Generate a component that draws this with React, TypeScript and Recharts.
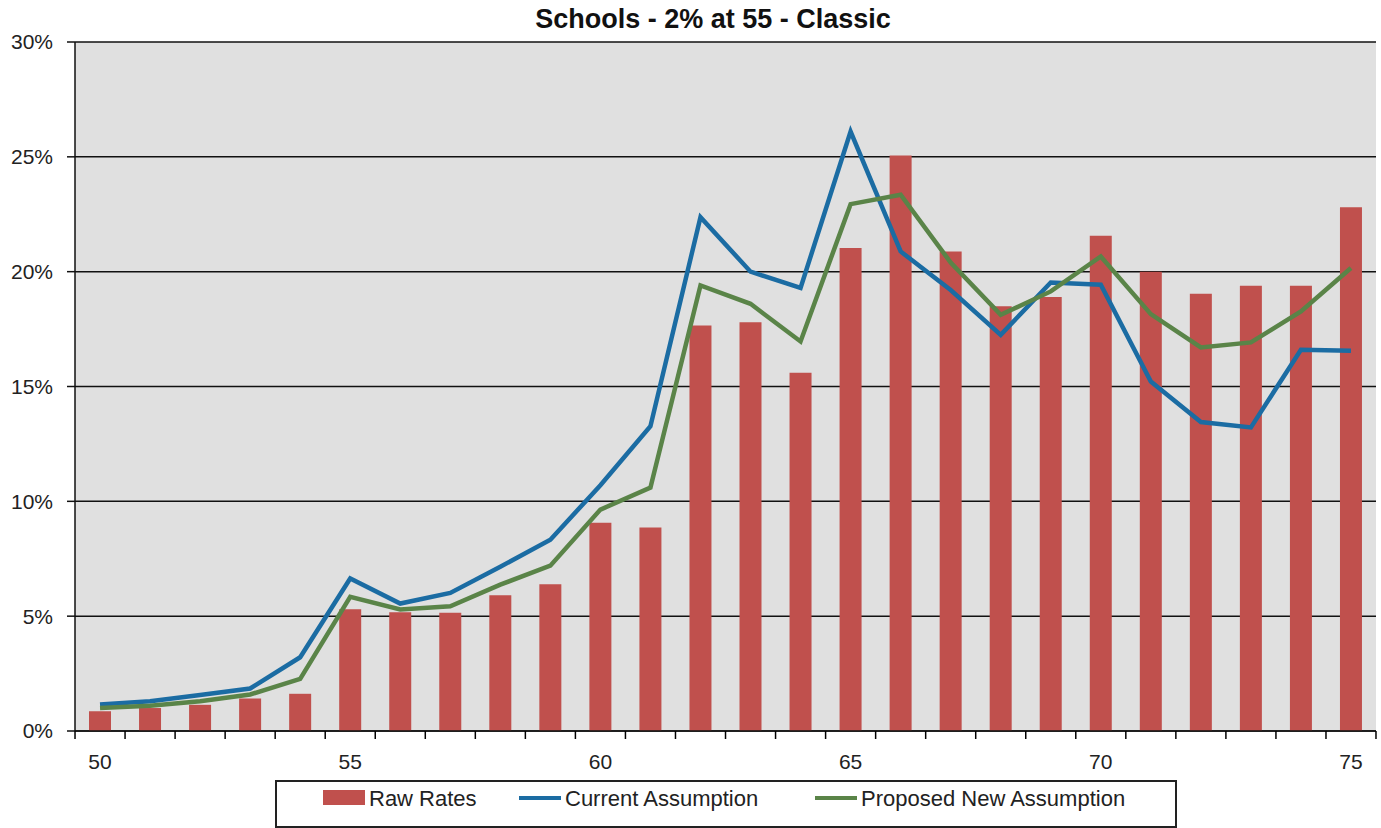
import React from 'react'
import { ComposedChart, Bar, Line, XAxis, YAxis, CartesianGrid, Legend } from 'recharts'

const ages = [50, 51, 52, 53, 54, 55, 56, 57, 58, 59, 60, 61, 62, 63, 64, 65, 66, 67, 68, 69, 70, 71, 72, 73, 74, 75]

const rawRates = [0.86, 1.0, 1.14, 1.41, 1.62, 5.3, 5.17, 5.15, 5.91, 6.39, 9.07, 8.86, 17.66, 17.8, 15.6, 21.03, 25.06, 20.88, 18.49, 18.9, 21.56, 20.0, 19.04, 19.39, 19.39, 22.8]

const currentAssumption = [1.15, 1.3, 1.57, 1.85, 3.21, 6.64, 5.55, 6.01, 7.15, 8.33, 10.7, 13.27, 22.37, 20.0, 19.29, 26.1, 20.88, 19.2, 17.25, 19.53, 19.43, 15.22, 13.45, 13.22, 16.6, 16.56]

const proposedAssumption = [1.0, 1.1, 1.3, 1.59, 2.27, 5.84, 5.29, 5.43, 6.37, 7.2, 9.64, 10.6, 19.4, 18.6, 16.96, 22.94, 23.35, 20.4, 18.12, 19.14, 20.66, 18.15, 16.7, 16.92, 18.27, 20.16]

const yTicks = [0, 5, 10, 15, 20, 25, 30]

const data = ages.map((age, i) => ({
  age,
  raw: rawRates[i],
  current: currentAssumption[i],
  proposed: proposedAssumption[i],
}))

const FONT = '"Liberation Sans", Arial, sans-serif'
const BAR = '#c0504d'
const BLUE = '#1b6ca3'
const GREEN = '#5a8448'
const BAND = 50

const AgeTick = (props: any) => {
  const { x, y, payload, index } = props
  const last = index === ages.length - 1
  return (
    <g>
      <line x1={x - BAND / 2} y1={y} x2={x - BAND / 2} y2={y + 8} stroke="#000" strokeWidth={1.5} />
      {last && <line x1={x + BAND / 2} y1={y} x2={x + BAND / 2} y2={y + 8} stroke="#000" strokeWidth={1.5} />}
      {payload.value % 5 === 0 && (
        <text x={x} y={y + 32} textAnchor="middle" dominantBaseline="middle" fontSize={21} fill="#222" fontFamily={FONT}>
          {payload.value}
        </text>
      )}
    </g>
  )
}

const LegendBox = () => (
  <div
    style={{
      position: 'absolute',
      left: 275,
      top: 0,
      width: 902,
      height: 48,
      border: '2px solid #222',
      background: '#fff',
      boxSizing: 'border-box',
      fontFamily: FONT,
      fontSize: 22,
      color: '#222',
      whiteSpace: 'nowrap',
    }}
  >
    <div style={{ position: 'absolute', left: 46, top: 8, width: 42, height: 15, background: BAR }} />
    <div style={{ position: 'absolute', left: 92, top: 5, lineHeight: '24px' }}>Raw Rates</div>
    <div style={{ position: 'absolute', left: 242, top: 14, width: 42, height: 4, background: BLUE }} />
    <div style={{ position: 'absolute', left: 288, top: 5, lineHeight: '24px' }}>Current Assumption</div>
    <div style={{ position: 'absolute', left: 538, top: 14, width: 42, height: 4, background: GREEN }} />
    <div style={{ position: 'absolute', left: 584, top: 5, lineHeight: '24px' }}>Proposed New Assumption</div>
  </div>
)

const App: React.FC = () => {
  return (
    <div style={{ position: 'absolute', left: 0, top: 0, width: 1381, height: 828, background: '#fff', overflow: 'hidden' }}>
      <div
        style={{
          position: 'absolute',
          left: 713,
          top: 4,
          transform: 'translateX(-50%)',
          fontFamily: FONT,
          fontWeight: 'bold',
          fontSize: 27,
          color: '#111',
          whiteSpace: 'nowrap',
        }}
      >
        Schools - 2% at 55 - Classic
      </div>
      <ComposedChart width={1381} height={828} data={data} margin={{ top: 42, right: 5, bottom: 0, left: 0 }}>
        <CartesianGrid vertical={false} fill="#e0e0e0" stroke="#111" strokeWidth={1.5} />
        <XAxis
          dataKey="age"
          interval={0}
          tickLine={false}
          tickSize={0}
          tickMargin={0}
          height={49}
          axisLine={{ stroke: '#111', strokeWidth: 1.5 }}
          tick={<AgeTick />}
        />
        <YAxis
          width={75}
          domain={[0, 30]}
          ticks={yTicks}
          tickFormatter={(v: number) => `${v}%`}
          tickSize={8}
          tickMargin={14}
          axisLine={{ stroke: '#111', strokeWidth: 1.5 }}
          tickLine={{ stroke: '#111', strokeWidth: 1.5 }}
          tick={{ fontSize: 21, fill: '#222', fontFamily: FONT }}
        />
        <YAxis yAxisId="right" orientation="right" width={0} domain={[0, 30]} tick={false} tickLine={false} axisLine={{ stroke: '#111', strokeWidth: 1.5 }} />
        <Legend verticalAlign="bottom" wrapperStyle={{ height: 48 }} content={() => <LegendBox />} />
        <Bar dataKey="raw" name="Raw Rates" fill={BAR} barSize={22} isAnimationActive={false} />
        <Line dataKey="current" name="Current Assumption" stroke={BLUE} strokeWidth={4.5} dot={false} isAnimationActive={false} />
        <Line dataKey="proposed" name="Proposed New Assumption" stroke={GREEN} strokeWidth={4.5} dot={false} isAnimationActive={false} />
      </ComposedChart>
    </div>
  )
}

export default App
